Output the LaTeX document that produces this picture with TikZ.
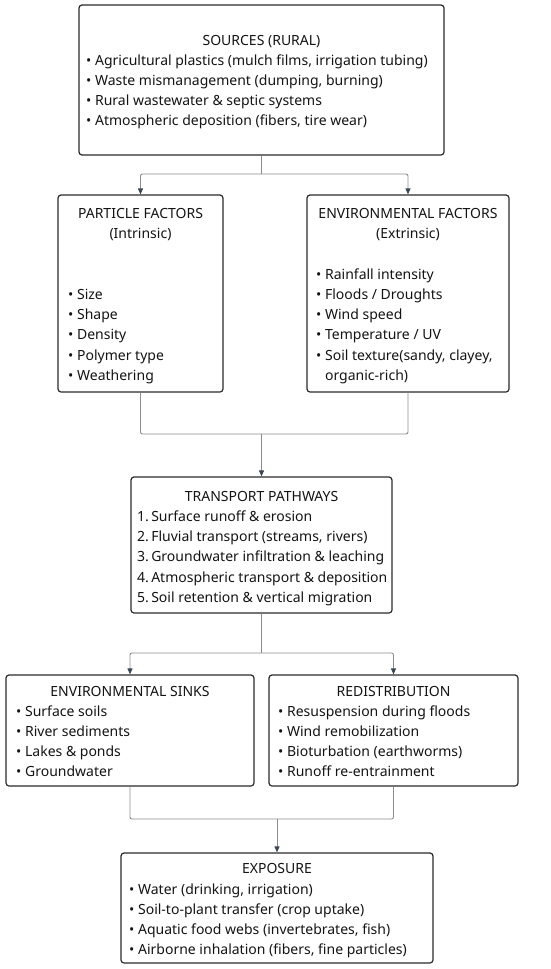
\documentclass[tikz,border=0pt]{standalone}
\usepackage{fontspec}
\setmainfont{Noto Sans}
\usetikzlibrary{arrows.meta}
\definecolor{boxc}{HTML}{2A2A2A}
\definecolor{linec}{HTML}{8C8C8C}
\definecolor{arrc}{HTML}{3A4756}
\definecolor{txtc}{HTML}{141414}
\newcommand{\fsz}{\fontsize{14}{20.2}\selectfont}
\newcommand{\bul}{\textbullet\ }
\begin{document}
\begin{tikzpicture}[x=1pt,y=-1pt,
  box/.style={draw=boxc, line width=1.2pt, rounded corners=3pt, inner sep=0pt, fill=white},
  ttl/.style={font=\fsz, text=txtc, inner sep=0pt, anchor=base},
  txt/.style={font=\fsz, text=txtc, inner sep=0pt, anchor=base west},
  conn/.style={draw=linec, line width=0.9pt, rounded corners=2pt},
  arr/.style={conn, -{Triangle[length=6pt,width=5pt,color=arrc]}}
]
\useasboundingbox[fill=white] (0,0) rectangle (550,969);

% boxes
\node[box, minimum width=365pt, minimum height=150pt] (src) at (261.5,80) {};
\node[box, minimum width=165pt, minimum height=197pt] (pf) at (140.5,293.5) {};
\node[box, minimum width=202pt, minimum height=197pt] (ef) at (408,293.5) {};
\node[box, minimum width=261pt, minimum height=136pt] (tp) at (261.5,545) {};
\node[box, minimum width=248pt, minimum height=111pt] (sk) at (130,730.5) {};
\node[box, minimum width=249pt, minimum height=111pt] (rd) at (393.5,730.5) {};
\node[box, minimum width=312pt, minimum height=110pt] (ex) at (277,908) {};

% sources
\node[ttl] (srcT) at (261.5,45) {SOURCES (RURAL)};
\node[txt] (src1) at (86,65) {\bul Agricultural plastics (mulch films, irrigation tubing)};
\node[txt] (src2) at (86,85) {\bul Waste mismanagement (dumping, burning)};
\node[txt] (src3) at (86,105) {\bul Rural wastewater \& septic systems};
\node[txt] (src4) at (86,125) {\bul Atmospheric deposition (fibers, tire wear)};

% particle factors
\node[ttl] (pfT) at (140.5,218) {PARTICLE FACTORS};
\node[ttl] (pfS) at (140.5,238) {(Intrinsic)};
\node[txt] (pf1) at (68,299) {\bul Size};
\node[txt] (pf2) at (68,319) {\bul Shape};
\node[txt] (pf3) at (68,339) {\bul Density};
\node[txt] (pf4) at (68,360) {\bul Polymer type};
\node[txt] (pf5) at (68,380) {\bul Weathering};

% environmental factors
\node[ttl] (efT) at (408,218) {ENVIRONMENTAL FACTORS};
\node[ttl] (efS) at (408,238) {(Extrinsic)};
\node[txt] (ef1) at (316,279) {\bul Rainfall intensity};
\node[txt] (ef2) at (316,299) {\bul Floods / Droughts};
\node[txt] (ef3) at (316,319) {\bul Wind speed};
\node[txt] (ef4) at (316,339) {\bul Temperature / UV};
\node[txt] (ef5) at (316,360) {\bul Soil texture(sandy, clayey,};
\node[txt] (ef6) at (316,380) {\phantom{\bul}organic-rich)};

% transport
\node[ttl] (tpT) at (261.5,501) {TRANSPORT PATHWAYS};
\node[txt] (tp1) at (137,521) {1.\,Surface runoff \& erosion};
\node[txt] (tp2) at (137,541) {2.\,Fluvial transport (streams, rivers)};
\node[txt] (tp3) at (137,561) {3.\,Groundwater infiltration \& leaching};
\node[txt] (tp4) at (137,582) {4.\,Atmospheric transport \& deposition};
\node[txt] (tp5) at (137,602) {5.\,Soil retention \& vertical migration};

% sinks
\node[ttl] (skT) at (130,696) {ENVIRONMENTAL SINKS};
\node[txt] (sk1) at (16,716) {\bul Surface soils};
\node[txt] (sk2) at (16,736) {\bul River sediments};
\node[txt] (sk3) at (16,756) {\bul Lakes \& ponds};
\node[txt] (sk4) at (16,776) {\bul Groundwater};

% redistribution
\node[ttl] (rdT) at (393.5,696) {REDISTRIBUTION};
\node[txt] (rd1) at (278,716) {\bul Resuspension during floods};
\node[txt] (rd2) at (278,736) {\bul Wind remobilization};
\node[txt] (rd3) at (278,756) {\bul Bioturbation (earthworms)};
\node[txt] (rd4) at (278,776) {\bul Runoff re-entrainment};

% exposure
\node[ttl] (exT) at (277,873) {EXPOSURE};
\node[txt] (ex1) at (129,894) {\bul Water (drinking, irrigation)};
\node[txt] (ex2) at (129,914) {\bul Soil-to-plant transfer (crop uptake)};
\node[txt] (ex3) at (129,934) {\bul Aquatic food webs (invertebrates, fish)};
\node[txt] (ex4) at (129,954) {\bul Airborne inhalation (fibers, fine particles)};

% connectors
\coordinate (j1) at (261.5,174);
\coordinate (j2) at (261.5,434);
\coordinate (j3) at (261.5,653);
\coordinate (j4) at (277,819);
\draw[conn] (src.south) -- (j1);
\draw[arr] (j1) -| (pf.north);
\draw[arr] (j1) -| (ef.north);
\draw[conn] (pf.south) |- (j2);
\draw[conn] (ef.south) |- (j2);
\draw[arr] (j2) -- (tp.north);
\draw[conn] (tp.south) -- (j3);
\draw[arr] (j3) -| (sk.north);
\draw[arr] (j3) -| (rd.north);
\draw[conn] (sk.south) |- (j4);
\draw[conn] (rd.south) |- (j4);
\draw[arr] (j4) -- (ex.north);
\end{tikzpicture}
\end{document}
